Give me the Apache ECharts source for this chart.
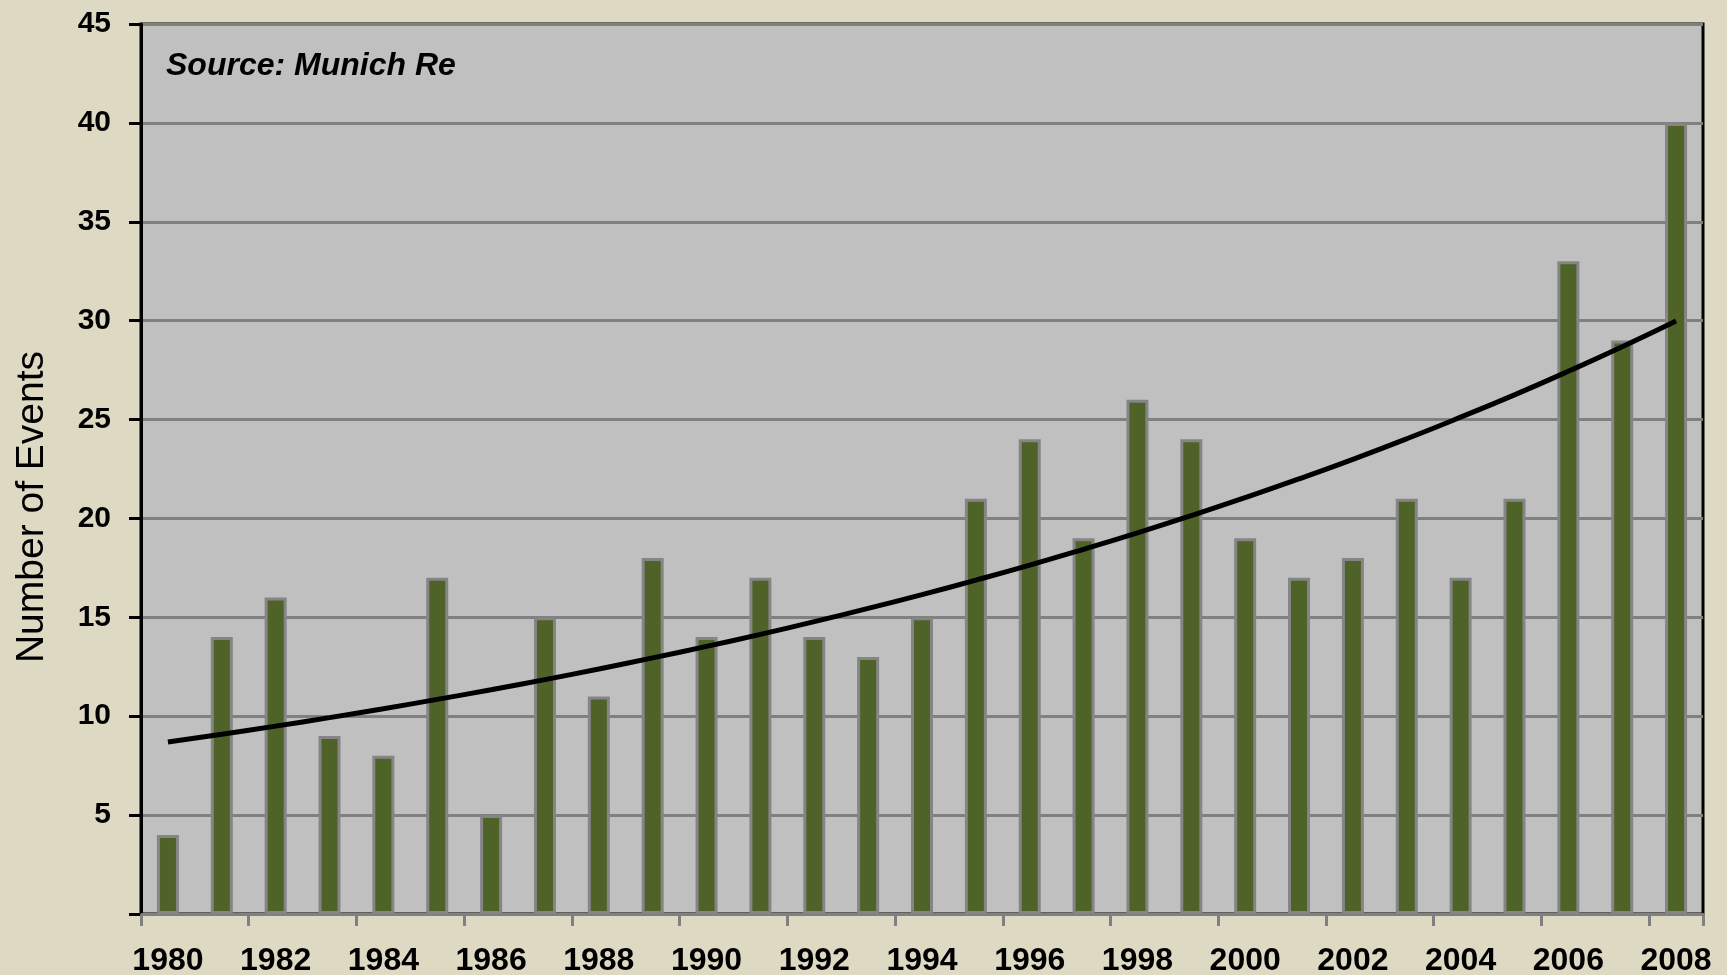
<!DOCTYPE html>
<html>
<head>
<meta charset="utf-8">
<script src="https://cdn.jsdelivr.net/npm/echarts@6/dist/echarts.min.js"></script>
<style>
html,body{margin:0;padding:0;background:#ddd9c3;}
#chart{width:1727px;height:975px;}
</style>
</head>
<body>
<div id="chart"></div>
<script>
var years = ['1980','1981','1982','1983','1984','1985','1986','1987','1988','1989','1990','1991','1992','1993','1994','1995','1996','1997','1998','1999','2000','2001','2002','2003','2004','2005','2006','2007','2008'];
var events = [4,14,16,9,8,17,5,15,11,18,14,17,14,13,15,21,24,19,26,24,19,17,18,21,17,21,33,29,40];
var trend = [8.70,9.09,9.50,9.93,10.38,10.85,11.34,11.85,12.39,12.95,13.53,14.14,14.78,15.45,16.15,16.88,17.64,18.44,19.27,20.14,21.05,22.00,22.99,24.03,25.12,26.25,27.44,28.68,29.98];
var yTitle = 'Number of Events';
var sourceText = 'Source: Munich Re';

var chart = echarts.init(document.getElementById('chart'));
var FONT = '"Liberation Sans", Arial, sans-serif';
chart.setOption({
  backgroundColor: '#ddd9c3',
  animation: false,
  grid: {
    left: 141, top: 24, right: 24, bottom: 61,
    outerBoundsMode: 'none',
    containLabel: false,
    show: true, backgroundColor: '#c0c0c0',
    borderColor: '#000', borderWidth: 3
  },
  xAxis: {
    type: 'category',
    data: years,
    boundaryGap: true,
    axisLine: { lineStyle: { color: '#808080', width: 3 } },
    axisTick: { show: true, interval: 1, length: 12, lineStyle: { color: '#808080', width: 3 } },
    axisLabel: { interval: 1, margin: 31, color: '#000', fontFamily: FONT, fontWeight: 'bold', fontSize: 32 },
    splitLine: { show: false }
  },
  yAxis: {
    type: 'value',
    min: 0, max: 45, interval: 5,
    axisLine: { show: true, lineStyle: { color: '#000', width: 3 } },
    axisTick: { show: true, length: 12, lineStyle: { color: '#000', width: 3 } },
    axisLabel: {
      margin: 30, color: '#000', fontFamily: FONT, fontWeight: 'bold', fontSize: 30,
      formatter: function (v) { return v === 0 ? '' : String(v); }
    },
    splitLine: { show: true, lineStyle: { color: '#808080', width: 3 } }
  },
  series: [
    {
      type: 'bar',
      data: events,
      barWidth: 22,
      itemStyle: { color: '#4f6228', borderColor: '#858585', borderWidth: 3 },
      z: 2
    },
    {
      type: 'line',
      data: trend,
      smooth: true,
      symbol: 'none',
      lineStyle: { color: '#000', width: 5 },
      z: 3
    }
  ],
  graphic: [
    {
      type: 'text',
      left: 166, top: 50,
      style: { text: sourceText, font: 'italic bold 32px ' + FONT, fill: '#000' },
      z: 10
    },
    {
      type: 'text',
      x: 32, y: 507,
      rotation: Math.PI / 2,
      style: { text: yTitle, font: '39px ' + FONT, fill: '#000', textAlign: 'center', textVerticalAlign: 'middle' },
      z: 10
    }
  ]
});
</script>
</body>
</html>
